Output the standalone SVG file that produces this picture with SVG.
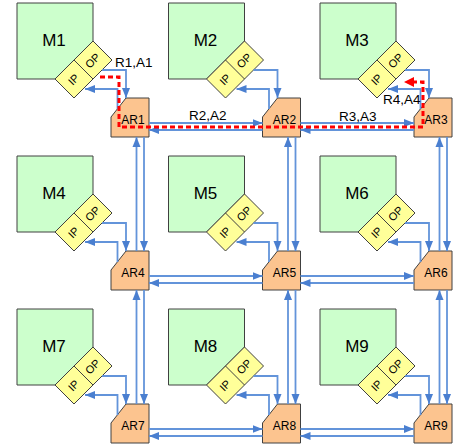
<svg xmlns="http://www.w3.org/2000/svg" width="453" height="445" viewBox="0 0 453 445">
<style>
.m{fill:#ccffcc;stroke:#404040;stroke-width:1}
.y{fill:#ffff99;stroke:#404040;stroke-width:1}
.ar{fill:#fcc48f;stroke:#404040;stroke-width:1}
.ml{font-family:"Liberation Sans",Arial,sans-serif;font-size:17px;fill:#000;text-anchor:middle}
.pl{font-family:"Liberation Sans",Arial,sans-serif;font-size:11px;fill:#000;text-anchor:middle;dominant-baseline:central}
.al{font-family:"Liberation Sans",Arial,sans-serif;font-size:12px;fill:#000;text-anchor:middle}
.rl{font-family:"Liberation Sans",Arial,sans-serif;font-size:13.5px;fill:#000}
.c path{fill:none;stroke:#6394da;stroke-width:1.8;marker-end:url(#ah)}
.red{fill:none;stroke:#ff0000;stroke-width:3;stroke-dasharray:5 3}
</style>
<defs>
<marker id="ah" markerUnits="userSpaceOnUse" markerWidth="10" markerHeight="10" viewBox="0 0 10 10" refX="10" refY="5" orient="auto">
<path d="M0,1 L10,5 L0,9 Z" fill="#4a7fd0"/>
</marker>
<g id="mod">
<polygon class="m" points="17,3 93,3 93,41 55,79 17,79"/>
<polygon class="y" points="55,79 93,41 112,60 74,98"/>
<line x1="74" y1="60" x2="93" y2="79" stroke="#404040" stroke-width="1"/>
<text class="pl" transform="translate(73.5,79.5) rotate(-45)">IP</text>
<text class="pl" transform="translate(92.5,60.5) rotate(-45)">OP</text>
</g>
<polygon id="arshape" class="ar" points="126,98 149,98 149,137 111,137 111,117"/>
</defs>

<g id="M1"><use href="#mod"/><text class="ml" x="54" y="46">M1</text></g>
<g id="M2" transform="translate(151.5,0)"><use href="#mod"/><text class="ml" x="54" y="46">M2</text></g>
<g id="M3" transform="translate(303,0)"><use href="#mod"/><text class="ml" x="54" y="46">M3</text></g>
<g id="M4" transform="translate(0,153)"><use href="#mod"/><text class="ml" x="54" y="46">M4</text></g>
<g id="M5" transform="translate(151.5,153)"><use href="#mod"/><text class="ml" x="54" y="46">M5</text></g>
<g id="M6" transform="translate(303,153)"><use href="#mod"/><text class="ml" x="54" y="46">M6</text></g>
<g id="M7" transform="translate(0,306)"><use href="#mod"/><text class="ml" x="54" y="46">M7</text></g>
<g id="M8" transform="translate(151.5,306)"><use href="#mod"/><text class="ml" x="54" y="46">M8</text></g>
<g id="M9" transform="translate(303,306)"><use href="#mod"/><text class="ml" x="54" y="46">M9</text></g>

<g id="AR1"><use href="#arshape"/><text class="al" x="133" y="124">AR1</text></g>
<g id="AR2" transform="translate(151.5,0)"><use href="#arshape"/><text class="al" x="133" y="124">AR2</text></g>
<g id="AR3" transform="translate(303,0)"><use href="#arshape"/><text class="al" x="133" y="124">AR3</text></g>
<g id="AR4" transform="translate(0,153)"><use href="#arshape"/><text class="al" x="133" y="124">AR4</text></g>
<g id="AR5" transform="translate(151.5,153)"><use href="#arshape"/><text class="al" x="133" y="124">AR5</text></g>
<g id="AR6" transform="translate(303,153)"><use href="#arshape"/><text class="al" x="133" y="124">AR6</text></g>
<g id="AR7" transform="translate(0,306)"><use href="#arshape"/><text class="al" x="133" y="124">AR7</text></g>
<g id="AR8" transform="translate(151.5,306)"><use href="#arshape"/><text class="al" x="133" y="124">AR8</text></g>
<g id="AR9" transform="translate(303,306)"><use href="#arshape"/><text class="al" x="133" y="124">AR9</text></g>

<g id="connectors" class="c">
<path d="M102,70 H126 V98"/>
<path d="M253.5,70 H277.5 V98"/>
<path d="M405,70 H429 V98"/>
<path d="M102,223 H126 V251"/>
<path d="M253.5,223 H277.5 V251"/>
<path d="M405,223 H429 V251"/>
<path d="M102,376 H126 V404"/>
<path d="M253.5,376 H277.5 V404"/>
<path d="M405,376 H429 V404"/>
<path d="M117.5,109 V89 H85"/>
<path d="M269,109 V89 H236.5"/>
<path d="M420.5,109 V89 H388"/>
<path d="M117.5,262 V242 H85"/>
<path d="M269,262 V242 H236.5"/>
<path d="M420.5,262 V242 H388"/>
<path d="M117.5,415 V395 H85"/>
<path d="M269,415 V395 H236.5"/>
<path d="M420.5,415 V395 H388"/>
<path d="M149,123 H262.5"/>
<path d="M300.5,123 H414"/>
<path d="M262.5,130 H149"/>
<path d="M414,130 H300.5"/>
<path d="M149,276 H262.5"/>
<path d="M300.5,276 H414"/>
<path d="M262.5,283 H149"/>
<path d="M414,283 H300.5"/>
<path d="M149,429 H262.5"/>
<path d="M300.5,429 H414"/>
<path d="M262.5,436 H149"/>
<path d="M414,436 H300.5"/>
<path d="M144,137 V251"/>
<path d="M144,290 V404"/>
<path d="M136.5,251 V137"/>
<path d="M136.5,404 V290"/>
<path d="M295.5,137 V251"/>
<path d="M295.5,290 V404"/>
<path d="M288,251 V137"/>
<path d="M288,404 V290"/>
<path d="M447,137 V251"/>
<path d="M447,290 V404"/>
<path d="M439.5,251 V137"/>
<path d="M439.5,404 V290"/>
</g>

<g id="route">
<path class="red" d="M100,77 H119 V127 H423 V82 H413"/>
<polygon points="404,82 414,77 414,87" fill="#ff0000"/>
</g>

<g id="labels">
<text class="rl" x="115" y="67">R1,A1</text>
<text class="rl" x="189" y="120">R2,A2</text>
<text class="rl" x="339" y="121">R3,A3</text>
<text class="rl" x="383" y="104">R4,A4</text>
</g>
</svg>
